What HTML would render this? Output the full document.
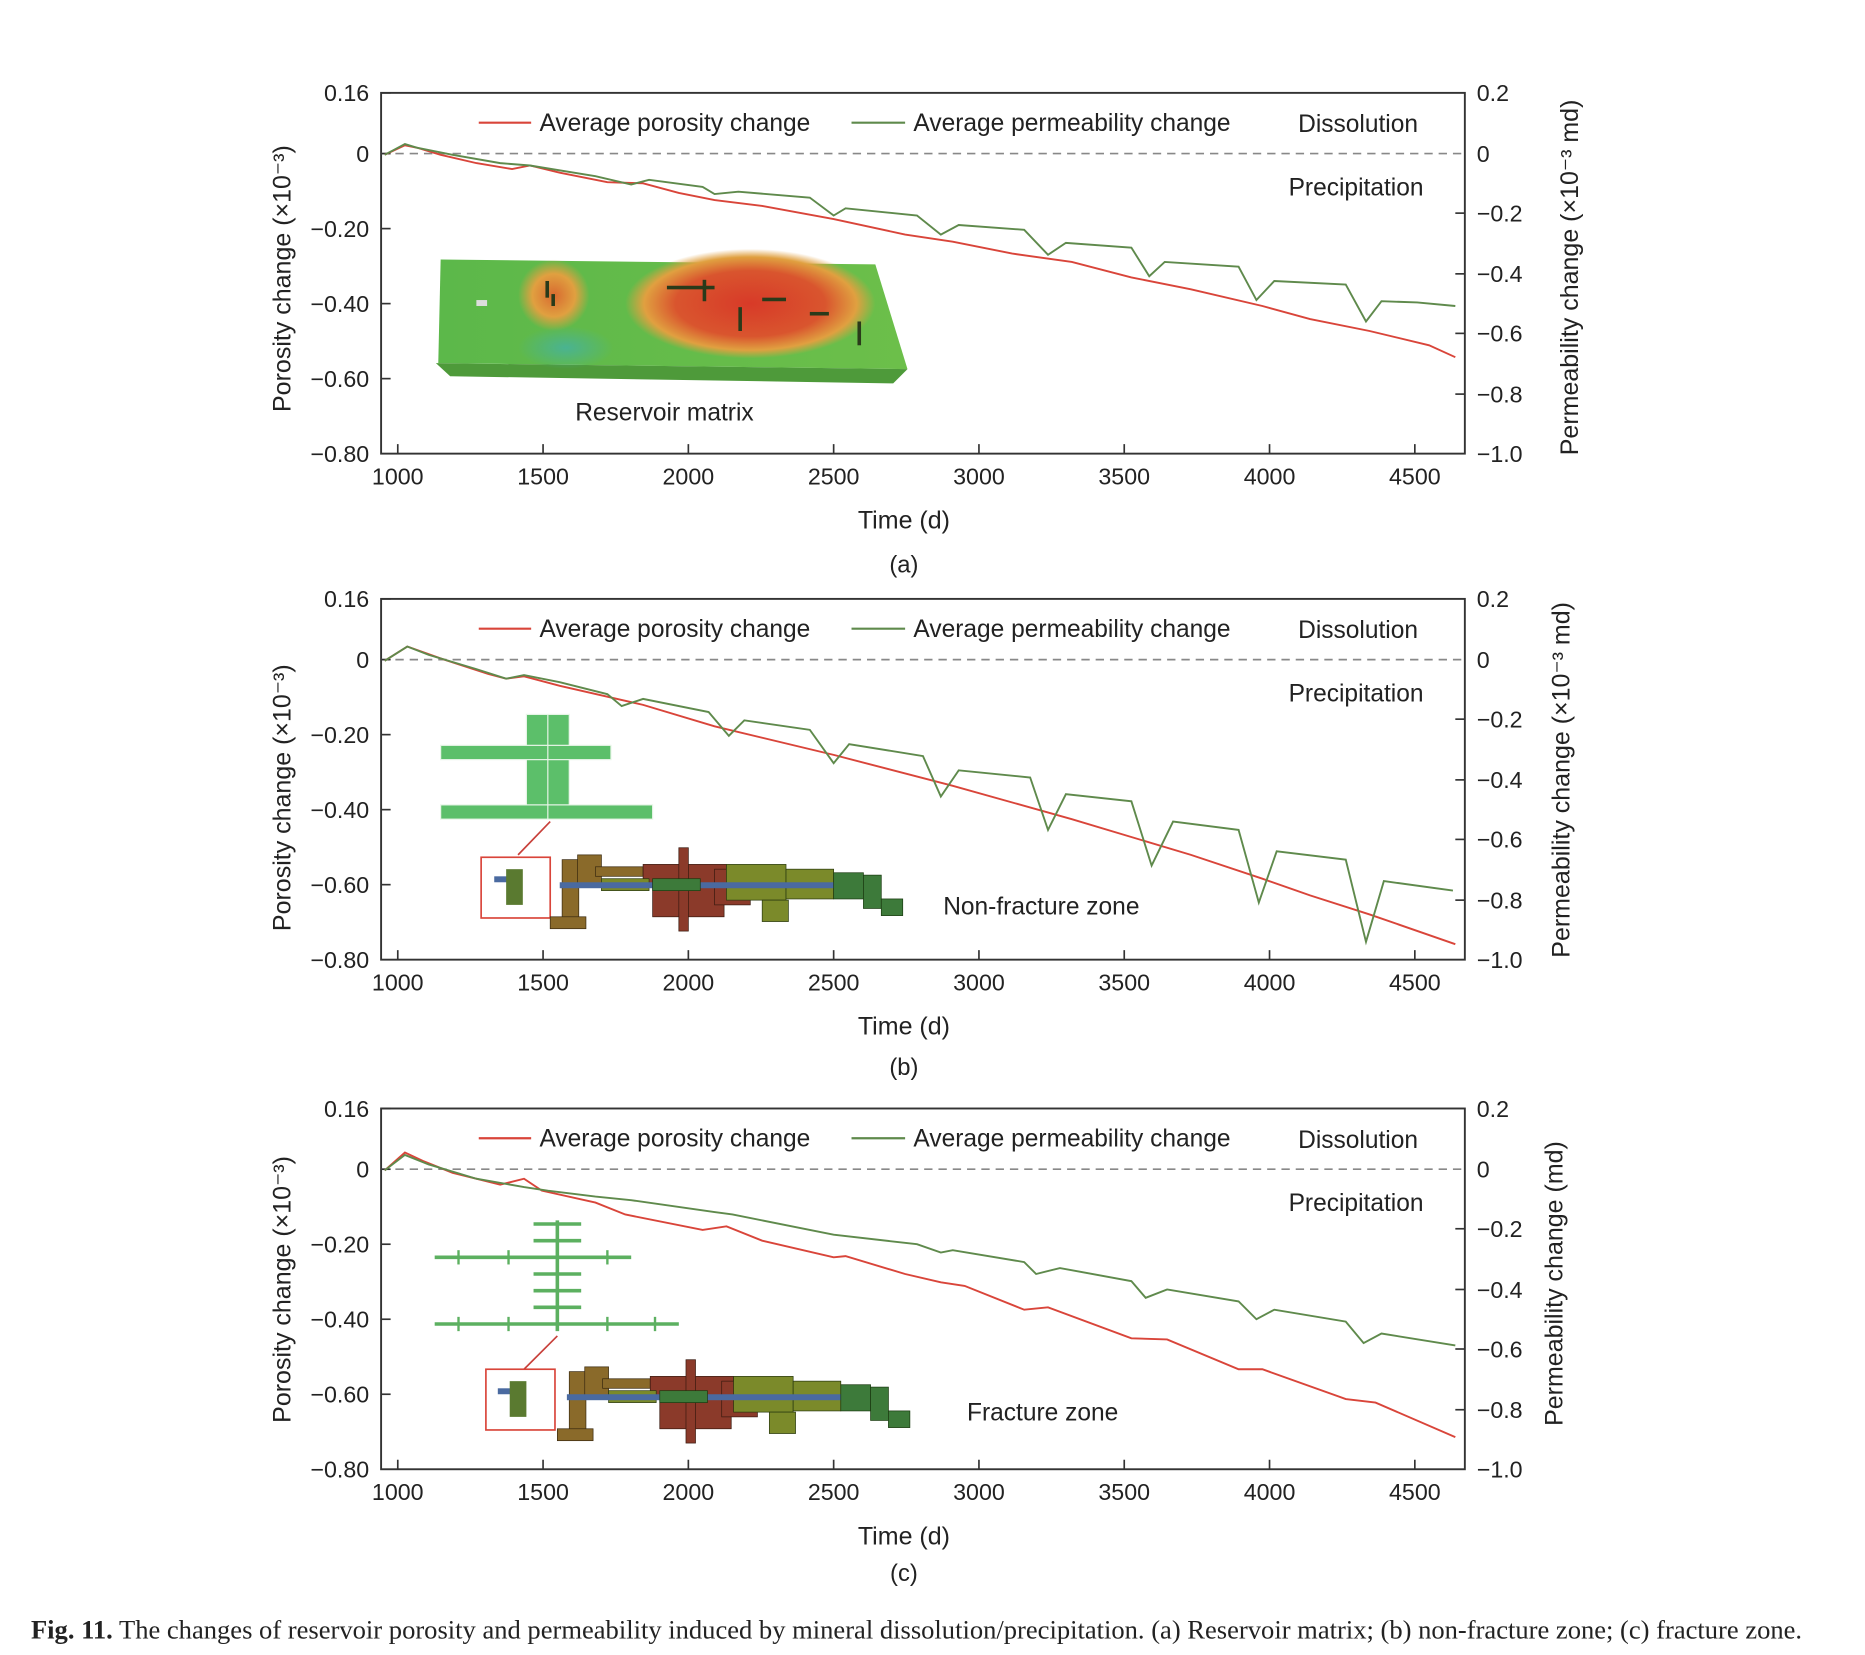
<!DOCTYPE html>
<html><head><meta charset="utf-8"><style>
html,body{margin:0;padding:0;background:#fff;}
svg{display:block;}
text{font-family:"Liberation Sans",sans-serif;fill:#222;}
</style></head><body>
<svg width="1865" height="1655" viewBox="0 0 1566 1390" preserveAspectRatio="none" xmlns="http://www.w3.org/2000/svg">
<defs>
<linearGradient id="slab" x1="0" y1="0" x2="1" y2="0">
  <stop offset="0" stop-color="#5cb84a"/><stop offset="1" stop-color="#6cbf4a"/>
</linearGradient>
<radialGradient id="hot" cx="0.5" cy="0.5" r="0.5">
  <stop offset="0" stop-color="#d83a28"/><stop offset="0.6" stop-color="#d9552e"/><stop offset="0.85" stop-color="#e0a040"/><stop offset="1" stop-color="#e0a040" stop-opacity="0"/>
</radialGradient>
<radialGradient id="warm" cx="0.5" cy="0.5" r="0.5">
  <stop offset="0" stop-color="#d86a30"/><stop offset="0.6" stop-color="#e0a040"/><stop offset="1" stop-color="#e0a040" stop-opacity="0"/>
</radialGradient>
<radialGradient id="cool" cx="0.5" cy="0.5" r="0.5">
  <stop offset="0" stop-color="#40b0b0"/><stop offset="1" stop-color="#40b0b0" stop-opacity="0"/>
</radialGradient>
<g id="axes">
  <rect x="320" y="0" width="910" height="303" fill="none" stroke="#333" stroke-width="1.6"/>
  <line x1="320" y1="51" x2="1230" y2="51" stroke="#888" stroke-width="1.4" stroke-dasharray="7,5"/>
  <g stroke="#333" stroke-width="1.4">
    <line x1="334" y1="303" x2="334" y2="295"/><line x1="456" y1="303" x2="456" y2="295"/>
    <line x1="578" y1="303" x2="578" y2="295"/><line x1="700" y1="303" x2="700" y2="295"/>
    <line x1="822" y1="303" x2="822" y2="295"/><line x1="944" y1="303" x2="944" y2="295"/>
    <line x1="1066" y1="303" x2="1066" y2="295"/><line x1="1188" y1="303" x2="1188" y2="295"/>
    <line x1="320" y1="0" x2="328" y2="0"/><line x1="320" y1="51" x2="328" y2="51"/>
    <line x1="320" y1="114" x2="328" y2="114"/><line x1="320" y1="177" x2="328" y2="177"/>
    <line x1="320" y1="240" x2="328" y2="240"/>
    <line x1="1230" y1="101" x2="1222" y2="101"/><line x1="1230" y1="152" x2="1222" y2="152"/>
    <line x1="1230" y1="202" x2="1222" y2="202"/><line x1="1230" y1="253" x2="1222" y2="253"/>
  </g>
  <g font-size="19.5" text-anchor="end">
    <text x="310" y="7">0.16</text><text x="310" y="58">0</text><text x="310" y="121">−0.20</text>
    <text x="310" y="184">−0.40</text><text x="310" y="247">−0.60</text><text x="310" y="310">−0.80</text>
  </g>
  <g font-size="19.5">
    <text x="1240" y="7">0.2</text><text x="1240" y="58">0</text><text x="1240" y="108">−0.2</text>
    <text x="1240" y="159">−0.4</text><text x="1240" y="209">−0.6</text><text x="1240" y="260">−0.8</text><text x="1240" y="310">−1.0</text>
  </g>
  <g font-size="19.5" text-anchor="middle">
    <text x="334" y="329">1000</text><text x="456" y="329">1500</text><text x="578" y="329">2000</text><text x="700" y="329">2500</text>
    <text x="822" y="329">3000</text><text x="944" y="329">3500</text><text x="1066" y="329">4000</text><text x="1188" y="329">4500</text>
    <text x="759" y="366" font-size="21">Time (d)</text>
  </g>
  <line x1="402" y1="25" x2="446" y2="25" stroke="#d9453a" stroke-width="1.8"/>
  <text x="453" y="32" font-size="20.6">Average porosity change</text>
  <line x1="715" y1="25" x2="760" y2="25" stroke="#5f8a4c" stroke-width="1.8"/>
  <text x="767" y="32" font-size="20.6">Average permeability change</text>
  <text x="1090" y="33" font-size="20.6">Dissolution</text>
  <text x="1082" y="86" font-size="20.6">Precipitation</text>
</g>
<g id="cluster">
  <g fill="#8a6a2a" stroke="#3a2a10" stroke-width="0.6">
    <rect x="472" y="722" width="14" height="55"/><rect x="462" y="770" width="30" height="10"/>
    <rect x="485" y="718" width="20" height="25"/><rect x="500" y="728" width="40" height="8"/>
  </g>
  <g fill="#8b3a2a" stroke="#3a1a10" stroke-width="0.6">
    <rect x="540" y="726" width="70" height="16"/><rect x="548" y="742" width="60" height="28"/>
    <rect x="570" y="712" width="8" height="70"/><rect x="600" y="730" width="30" height="30"/>
  </g>
  <g fill="#7b8a2a" stroke="#2a3a10" stroke-width="0.6">
    <rect x="505" y="738" width="40" height="10"/><rect x="610" y="726" width="50" height="30"/>
    <rect x="660" y="730" width="40" height="25"/><rect x="640" y="756" width="22" height="18"/>
  </g>
  <rect x="470" y="741" width="270" height="5" fill="#4a6aa0"/>
  <g fill="#3d7a3a" stroke="#1a3a10" stroke-width="0.6">
    <rect x="700" y="733" width="25" height="22"/><rect x="725" y="735" width="15" height="28"/><rect x="740" y="755" width="18" height="14"/>
    <rect x="548" y="738" width="40" height="10"/>
  </g>
</g>
</defs>

<!-- Panel a -->
<g transform="translate(0,78)"><use href="#axes"/></g>
<text transform="translate(244,234) rotate(-90)" font-size="21" text-anchor="middle">Porosity change  (×10⁻³)</text>
<text transform="translate(1325,233) rotate(-90)" font-size="21" text-anchor="middle">Permeability change (×10⁻³ md)</text>
<polygon points="370,218 735,222 762,310 368,305" fill="url(#slab)"/>
<polygon points="366,305 762,310 750,322 378,316" fill="#4e9a3a"/>
<ellipse cx="465" cy="248" rx="30" ry="30" fill="url(#warm)"/>
<ellipse cx="630" cy="255" rx="105" ry="46" fill="url(#hot)"/>
<ellipse cx="475" cy="292" rx="40" ry="18" fill="url(#cool)" opacity="0.7"/>
<rect x="400" y="252" width="9" height="5" fill="#ddd"/>
<g fill="#2a3a1a"><rect x="458" y="236" width="3" height="14"/><rect x="463" y="247" width="3" height="10"/><rect x="560" y="240" width="40" height="3"/><rect x="590" y="235" width="3" height="18"/><rect x="620" y="258" width="3" height="20"/><rect x="640" y="250" width="20" height="3"/><rect x="680" y="262" width="16" height="3"/><rect x="720" y="270" width="3" height="20"/></g>
<text x="483" y="353" font-size="20.6">Reservoir matrix</text>
<polyline fill="none" stroke="#d9453a" stroke-width="1.6" points="323,130 340,122 350,124 370,130 400,137 430,142 445,139 470,145 510,153 540,154 570,162 600,168 640,173 700,184 760,197 800,203 850,213 900,220 950,233 1000,243 1060,257 1100,268 1150,278 1200,290 1222,300"/>
<polyline fill="none" stroke="#5f8a4c" stroke-width="1.6" points="323,130 340,121 350,124 380,130 420,137 445,139 500,148 530,155 545,151 590,157 600,163 620,161 680,166 700,181 710,175 770,181 790,197 805,189 860,193 880,214 895,204 950,208 965,232 978,220 1040,224 1055,252 1070,236 1130,239 1147,270 1160,253 1190,254 1222,257"/>
<text x="759" y="481" font-size="20" text-anchor="middle">(a)</text>

<!-- Panel b -->
<g transform="translate(0,503)"><use href="#axes"/></g>
<text transform="translate(244,670) rotate(-90)" font-size="21" text-anchor="middle">Porosity change  (×10⁻³)</text>
<text transform="translate(1318,655) rotate(-90)" font-size="21" text-anchor="middle">Permeability change  (×10⁻³ md)</text>
<g fill="#5cbf6a" stroke="#e8f5e8" stroke-width="1">
  <rect x="442" y="600" width="36" height="86"/><rect x="370" y="626" width="143" height="12"/><rect x="370" y="676" width="178" height="12"/>
</g>
<line x1="460" y1="600" x2="460" y2="688" stroke="#e8f5e8" stroke-width="1"/>
<line x1="435" y1="718" x2="462" y2="690" stroke="#c8403a" stroke-width="1.4"/>
<rect x="404" y="720" width="58" height="51" fill="none" stroke="#d9453a" stroke-width="1.4"/>
<rect x="415" y="736" width="20" height="5" fill="#4a6aa0"/><rect x="425" y="730" width="14" height="30" fill="#5a7a30"/>
<use href="#cluster"/>
<text x="792" y="768" font-size="20.6">Non-fracture zone</text>
<polyline fill="none" stroke="#d9453a" stroke-width="1.6" points="323,555 342,543 370,553 410,566 425,570 440,568 470,576 540,592 600,610 700,634 800,660 900,688 1000,718 1060,738 1100,752 1150,768 1222,793"/>
<polyline fill="none" stroke="#5f8a4c" stroke-width="1.6" points="323,555 342,543 360,550 400,562 425,570 440,567 470,573 510,583 522,593 540,587 595,598 612,618 625,605 680,613 700,641 713,625 775,635 790,669 805,647 865,653 880,697 895,667 950,673 967,727 985,690 1040,697 1057,758 1072,715 1130,722 1147,791 1162,740 1220,748"/>
<text x="759" y="903" font-size="20" text-anchor="middle">(b)</text>

<!-- Panel c -->
<g transform="translate(0,931)"><use href="#axes"/></g>
<text transform="translate(244,1083) rotate(-90)" font-size="21" text-anchor="middle">Porosity change (×10⁻³)</text>
<text transform="translate(1312,1078) rotate(-90)" font-size="21" text-anchor="middle">Permeability change (md)</text>
<g stroke="#5cb060" stroke-width="3">
  <line x1="468" y1="1025" x2="468" y2="1118"/><line x1="365" y1="1056" x2="530" y2="1056"/><line x1="365" y1="1112" x2="570" y2="1112"/>
  <line x1="448" y1="1028" x2="488" y2="1028"/><line x1="448" y1="1042" x2="488" y2="1042"/><line x1="448" y1="1070" x2="488" y2="1070"/><line x1="448" y1="1084" x2="488" y2="1084"/><line x1="448" y1="1098" x2="488" y2="1098"/>
</g>
<g stroke="#5cb060" stroke-width="2"><line x1="385" y1="1050" x2="385" y2="1062"/><line x1="427" y1="1050" x2="427" y2="1062"/><line x1="510" y1="1050" x2="510" y2="1062"/><line x1="385" y1="1106" x2="385" y2="1118"/><line x1="427" y1="1106" x2="427" y2="1118"/><line x1="510" y1="1106" x2="510" y2="1118"/><line x1="550" y1="1106" x2="550" y2="1118"/></g>
<line x1="440" y1="1150" x2="468" y2="1122" stroke="#c8403a" stroke-width="1.4"/>
<rect x="408" y="1150" width="58" height="51" fill="none" stroke="#d9453a" stroke-width="1.4"/>
<rect x="418" y="1166" width="20" height="5" fill="#4a6aa0"/><rect x="428" y="1160" width="14" height="30" fill="#5a7a30"/>
<g transform="translate(6,430)"><use href="#cluster"/></g>
<text x="812" y="1193" font-size="20.6">Fracture zone</text>
<polyline fill="none" stroke="#d9453a" stroke-width="1.6" points="323,983 340,968 355,975 380,985 420,995 440,990 455,1000 500,1010 525,1020 590,1033 610,1030 640,1042 700,1056 710,1055 760,1070 790,1077 810,1080 860,1100 880,1098 950,1124 980,1125 1040,1150 1060,1150 1130,1175 1155,1178 1222,1207"/>
<polyline fill="none" stroke="#5f8a4c" stroke-width="1.6" points="323,983 340,970 360,978 400,990 440,997 460,1000 500,1005 530,1008 600,1018 615,1020 680,1033 700,1037 770,1045 790,1052 800,1050 860,1060 870,1070 890,1065 950,1076 962,1090 980,1083 1040,1093 1055,1108 1070,1100 1130,1110 1145,1128 1160,1120 1222,1130"/>
<text x="759" y="1328" font-size="20" text-anchor="middle">(c)</text>

<text x="26" y="1376" font-size="22.3" style="font-family:'Liberation Serif',serif"><tspan font-weight="bold">Fig. 11.</tspan> The changes of reservoir porosity and permeability induced by mineral dissolution/precipitation. (a) Reservoir matrix; (b) non-fracture zone; (c) fracture zone.</text>
</svg>
</body></html>
